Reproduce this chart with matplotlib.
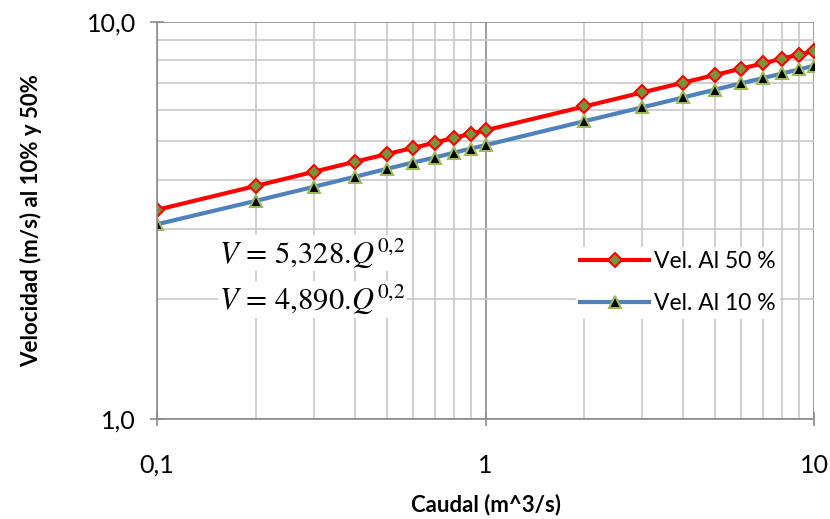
import matplotlib
matplotlib.use("Agg")
import matplotlib.pyplot as plt
from matplotlib.ticker import FixedLocator, NullFormatter, LogLocator

plt.rcParams['font.family'] = ['Lato', 'DejaVu Sans']
plt.rcParams['mathtext.fontset'] = 'stix'

# caudal (m^3/s)
caudal = [0.1, 0.2, 0.3, 0.4, 0.5, 0.6, 0.7, 0.8, 0.9, 1.0,
          2.0, 3.0, 4.0, 5.0, 6.0, 7.0, 8.0, 9.0, 10.0]
# velocidad al 50 %
vel_50 = [3.36, 3.86, 4.19, 4.44, 4.64, 4.81, 4.96, 5.10, 5.22, 5.33,
          6.12, 6.64, 7.03, 7.35, 7.62, 7.86, 8.08, 8.27, 8.44]
# velocidad al 10 %
vel_10 = [3.09, 3.54, 3.84, 4.07, 4.26, 4.42, 4.55, 4.68, 4.79, 4.89,
          5.62, 6.09, 6.45, 6.75, 7.00, 7.22, 7.41, 7.59, 7.75]

fig = plt.figure(figsize=(8.3, 5.19), dpi=100)
ax = fig.add_axes([0.189, 0.193, 0.792, 0.765])

ax.set_xscale('log')
ax.set_yscale('log')
ax.set_xlim(0.1, 10)
ax.set_ylim(1, 10)

# rejilla
ax.xaxis.set_minor_locator(LogLocator(base=10, subs=range(2, 10)))
ax.yaxis.set_minor_locator(LogLocator(base=10, subs=range(2, 10)))
ax.xaxis.set_minor_formatter(NullFormatter())
ax.yaxis.set_minor_formatter(NullFormatter())
ax.grid(which='minor', color='#c8c8c8', linewidth=1.2)
ax.grid(which='major', color='#8c8c8c', linewidth=1.2)
ax.set_axisbelow(True)

ax.xaxis.set_major_locator(FixedLocator([0.1, 1, 10]))
ax.yaxis.set_major_locator(FixedLocator([1, 10]))
ax.set_xticklabels(['0,1', '1', '10'])
ax.set_yticklabels(['1,0', '10,0'])
ax.tick_params(which='major', direction='inout', length=10, width=1.2,
               color='#8c8c8c', labelsize=18)
ax.tick_params(axis='x', which='major', pad=20)
ax.tick_params(axis='y', which='major', pad=10)
ax.tick_params(which='minor', length=0)

for s in ['top', 'right']:
    ax.spines[s].set_visible(False)
for s in ['left', 'bottom']:
    ax.spines[s].set_color('#8c8c8c')
    ax.spines[s].set_linewidth(1.2)

ax.plot(caudal, vel_50, color='#ff0000', linewidth=3, marker='D',
        markersize=7, markerfacecolor='#77933c', markeredgecolor='#ff0000',
        markeredgewidth=1.5, label='Vel. Al 50 %')
ax.plot(caudal, vel_10, color='#4f81bd', linewidth=3, marker='^',
        markersize=8, markerfacecolor='#000000', markeredgecolor='#9bbb59',
        markeredgewidth=1.5, label='Vel. Al 10 %')

ax.set_xlabel('Caudal (m^3/s)', fontsize=16, fontweight='bold', labelpad=12)
ax.set_ylabel('Velocidad (m/s) al 10% y 50%', fontsize=16, fontweight='bold',
              labelpad=32)

bb = dict(facecolor='white', edgecolor='none', pad=1)
ax.text(0.095, 0.418, r'$V\,=\,5{,}328.\!Q^{0{,}2}$', transform=ax.transAxes,
        fontsize=22, ha='left', va='center', bbox=bb)
ax.text(0.095, 0.3, r'$V\,=\,4{,}890.\!Q^{0{,}2}$', transform=ax.transAxes,
        fontsize=22, ha='left', va='center', bbox=bb)

leg = ax.legend(loc='upper left', bbox_to_anchor=(0.62, 0.462), frameon=True,
                fontsize=16.5, handlelength=3, labelspacing=0.9,
                borderpad=0.2, handletextpad=0.2)
leg.get_frame().set_edgecolor('none')
leg.get_frame().set_facecolor('white')
leg.get_frame().set_alpha(1)

fig.savefig('out.png', dpi=100)
